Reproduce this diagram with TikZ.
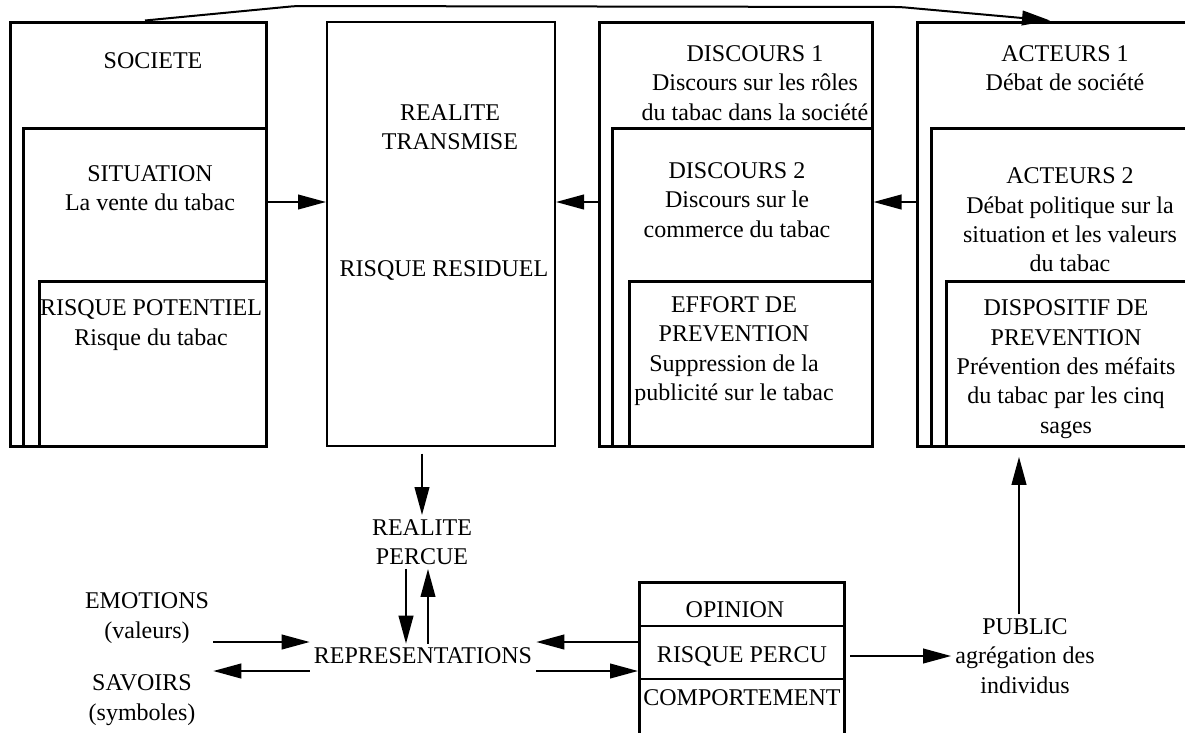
\documentclass[tikz,border=0pt]{standalone}
\usepackage{fontspec}
\setmainfont{Liberation Serif}
\usetikzlibrary{arrows.meta,fit}
\begin{document}
\begin{tikzpicture}[x=0.75pt,y=-0.75pt,
  thickbox/.style={draw,line width=2.25pt,inner sep=0pt},
  thinbox/.style={draw,line width=1.5pt,inner sep=0pt},
  lbl/.style={font=\fontsize{18}{22}\selectfont,align=center,inner sep=3pt},
  arr/.style={line width=1.5pt,-{Triangle[length=21pt,width=11pt]}},
]
\useasboundingbox (0,0) rectangle (1185,732);
\clip (0,0) rectangle (1185,732);
% top boxes
\node[thickbox, fit={(10,22) (266,446)}] (soc) {};
\node[thickbox, fit={(23,128) (266,446)}] (sit) {};
\node[thickbox, fit={(39,281) (266,446)}] (rpot) {};
\node[thinbox, fit={(327,22) (555,446)}] (rt) {};
\node[thickbox, fit={(599,22) (872,446)}] (d1) {};
\node[thickbox, fit={(612,128) (872,446)}] (d2) {};
\node[thickbox, fit={(629,281) (872,446)}] (eff) {};
\node[thickbox, fit={(917,22) (1200,446)}] (a1) {};
\node[thickbox, fit={(931,128) (1200,446)}] (a2) {};
\node[thickbox, fit={(946,281) (1200,446)}] (disp) {};
% opinion box
\node[thinbox, fit={(639,582) (844,626)}] (op) {};
\node[thinbox, fit={(639,626) (844,679)}] (rpc) {};
\node[thinbox, fit={(639,679) (844,770)}] (comp) {};
\node[thickbox, fit={(639,582) (844,770)}] (opb) {};
% texts in boxes
\node[lbl] (tsoc) at (153,61) {SOCIETE};
\node[lbl] (tsit) at (150,188) {SITUATION\\La vente du tabac};
\node[lbl] (tpot) at (151,325) {RISQUE POTENTIEL\\Risque du tabac};
\node[lbl] (trt) at (450,127) {REALITE\\TRANSMISE};
\node[lbl] (trr) at (444,270) {RISQUE RESIDUEL};
\node[lbl] (td1) at (755,83) {DISCOURS 1\\Discours sur les rôles\\du tabac dans la société};
\node[lbl] (td2) at (737,200) {DISCOURS 2\\Discours sur le\\commerce du tabac};
\node[lbl] (teff) at (734,351) {EFFORT DE\\PREVENTION\\Suppression de la\\publicité sur le tabac};
\node[lbl] (ta1) at (1065,68) {ACTEURS 1\\Débat de société};
\node[lbl] (ta2) at (1070,220) {ACTEURS 2\\Débat politique sur la\\situation et les valeurs\\du tabac};
\node[lbl] (tdisp) at (1066,369) {DISPOSITIF DE\\PREVENTION\\Prévention des méfaits\\du tabac par les cinq\\sages};
\node[lbl] (top) at (735,610) {OPINION};
\node[lbl] (trpc) at (742,656) {RISQUE PERCU};
\node[lbl] (tcomp) at (742,698) {COMPORTEMENT};
% free texts
\node[lbl] (rp) at (422,542) {REALITE\\PERCUE};
\node[lbl] (rep) at (423,656) {REPRESENTATIONS};
\node[lbl] (emo) at (147,618) {EMOTIONS\\(valeurs)};
\node[lbl] (sav) at (142,700) {SAVOIRS\\(symboles)};
\node[lbl] (pub) at (1025,656) {PUBLIC\\agrégation des\\individus};
% helper coordinates
\coordinate (xt0) at (145,0);
\coordinate (t1) at (296,6);
\coordinate (t2) at (900,7);
\coordinate (xt3) at (1050,0);
\coordinate (ymid) at (0,202);
\coordinate (xdn) at (406,0);
\coordinate (xup) at (428,0);
\coordinate (yhi) at (0,642);
\coordinate (ylo) at (0,671);
\coordinate (xpub) at (1019,0);
% connectors
\draw[arr, rounded corners=4pt] (soc.north -| xt0) -- (t1) -- (t2) -- (a1.north -| xt3);
\draw[arr] (sit.east |- ymid) -- (rt.west |- ymid);
\draw[arr] (d1.west |- ymid) -- (rt.east |- ymid);
\draw[arr] (a1.west |- ymid) -- (d1.east |- ymid);
\draw[arr, shorten <=5pt] (rt.south -| rp.north) -- (rp.north);
\draw[arr] (rp.south -| xdn) -- (rep.north -| xdn);
\draw[arr] (rep.north -| xup) -- (rp.south -| xup);
\draw[arr] (emo.east |- yhi) -- (rep.west |- yhi);
\draw[arr] (rep.west |- ylo) -- (emo.east |- ylo);
\draw[arr] (rpc.west |- yhi) -- (rep.east |- yhi);
\draw[arr] (rep.east |- ylo) -- (rpc.west |- ylo);
\draw[arr, shorten <=4pt] (rpc.east |- pub.west) -- (pub.west);
\draw[arr, shorten >=7pt] (pub.north -| xpub) -- (disp.south -| xpub);
\end{tikzpicture}
\end{document}
